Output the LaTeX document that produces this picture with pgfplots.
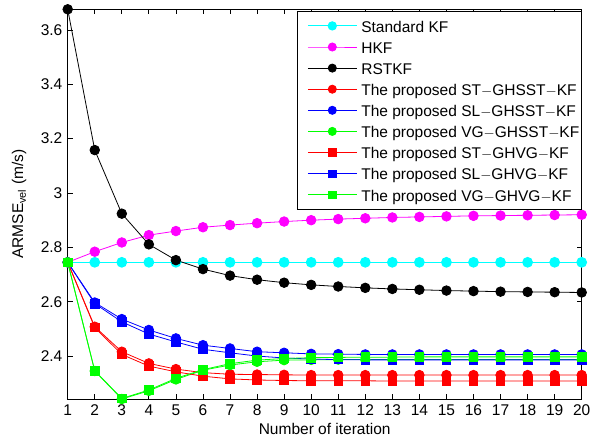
\documentclass[border=0pt]{standalone}
\usepackage{fontspec}
\setmainfont{Liberation Sans}
\usepackage{pgfplots}
\pgfplotsset{compat=1.18}
\usetikzlibrary{calc}
\definecolor{mcyan}{rgb}{0,1,1}
\definecolor{mmag}{rgb}{1,0,1}
\definecolor{mred}{rgb}{1,0,0}
\definecolor{mblue}{rgb}{0,0,1}
\definecolor{mgreen}{rgb}{0,1,0}

\pgfplotstableread{
x cyan mag blk redc bluec greenc reds blues greens
1  2.745 2.745 3.676 2.745 2.745 2.745 2.745 2.745 2.745
2  2.745 2.784 3.158 2.508 2.597 2.345 2.505 2.593 2.346
3  2.745 2.818 2.924 2.416 2.536 2.242 2.406 2.526 2.244
4  2.745 2.845 2.811 2.373 2.496 2.272 2.363 2.481 2.275
5  2.745 2.860 2.753 2.352 2.465 2.314 2.342 2.452 2.318
6  2.745 2.874 2.720 2.339 2.440 2.348 2.326 2.425 2.350
7  2.745 2.882 2.696 2.333 2.428 2.367 2.316 2.412 2.372
8  2.745 2.889 2.681 2.332 2.416 2.379 2.312 2.400 2.385
9  2.745 2.895 2.670 2.331 2.412 2.385 2.310 2.393 2.391
10 2.745 2.900 2.662 2.330 2.408 2.386 2.309 2.389 2.394
11 2.745 2.904 2.656 2.330 2.407 2.387 2.309 2.387 2.395
12 2.745 2.907 2.651 2.330 2.406 2.387 2.309 2.386 2.396
13 2.745 2.910 2.647 2.330 2.406 2.387 2.308 2.386 2.396
14 2.745 2.912 2.644 2.330 2.406 2.387 2.308 2.386 2.397
15 2.745 2.914 2.641 2.330 2.406 2.387 2.308 2.386 2.397
16 2.745 2.916 2.639 2.330 2.406 2.387 2.308 2.386 2.397
17 2.745 2.917 2.637 2.330 2.406 2.387 2.308 2.386 2.397
18 2.745 2.918 2.636 2.330 2.406 2.387 2.308 2.386 2.397
19 2.745 2.919 2.635 2.330 2.406 2.387 2.308 2.386 2.397
20 2.745 2.920 2.634 2.330 2.406 2.387 2.308 2.386 2.397
}\data

\begin{document}
\fontsize{15.5}{18}\selectfont
\begin{tikzpicture}
\begin{axis}[
  scale only axis, width=514pt, height=389.7pt,
  xmin=1, xmax=20, ymin=2.242, ymax=3.676,
  xtick={1,...,20}, ytick={2.4,2.6,2.8,3,3.2,3.4,3.6},
  /pgf/number format/assume math mode=true,
  tick label style={font=\fontsize{15.5}{18}\selectfont},
  label style={font=\fontsize{15.5}{18}\selectfont},
  tick align=inside, major tick length=5pt,
  every tick/.style={black, line width=0.8pt},
  axis line style={line width=0.8pt},
  clip=false,
  xlabel={Number of iteration},
  ylabel={ARMSE\textsubscript{vel} (m/s)},
  every axis y label/.style={at={(axis description cs:-0.0946,0.5)}, rotate=90, anchor=center},
  every axis x label/.style={at={(axis description cs:0.5,-0.0765)}, anchor=center},
  legend cell align=left,
  legend style={at={(1,0.996)}, anchor=north east, draw=black, line width=0.8pt,
    font=\fontsize{15.5}{18}\selectfont,
    nodes={inner sep=0pt, text height=17.5pt, text depth=4.8pt},
    inner xsep=2pt, inner ysep=3.5pt, row sep=-1.2pt,
    /tikz/every odd column/.append style={column sep=4pt}},
  legend image code/.code={
    \path (0pt,0pt);
    \draw[mark repeat=2,mark phase=2] plot coordinates {(8pt,0pt)(32.5pt,0pt)(57pt,0pt)};},
  legend image post style={every mark/.append style={scale=0.85}},
  every axis plot/.append style={line width=0.8pt},
  circ/.style={mark=*, mark size=4.8pt, mark options={solid}},
  sq/.style={mark=square*, mark size=4.3pt, mark options={solid}},
]
\addplot[mcyan, circ, line width=1.1pt] table[x=x,y=cyan] {\data};
\addlegendentry{Standard KF}
\addplot[mmag, circ] table[x=x,y=mag] {\data};
\addlegendentry{HKF}
\addplot[black, circ] table[x=x,y=blk] {\data};
\addlegendentry{RSTKF}
\addplot[mred, circ] table[x=x,y=redc] {\data};
\addlegendentry{The proposed ST$-$GHSST$-$KF}
\addplot[mblue, circ] table[x=x,y=bluec] {\data};
\addlegendentry{The proposed SL$-$GHSST$-$KF}
\addplot[mgreen, circ] table[x=x,y=greenc] {\data};
\addlegendentry{The proposed VG$-$GHSST$-$KF}
\addplot[mred, sq] table[x=x,y=reds] {\data};
\addlegendentry{The proposed ST$-$GHVG$-$KF}
\addplot[mblue, sq] table[x=x,y=blues] {\data};
\addlegendentry{The proposed SL$-$GHVG$-$KF}
\addplot[mgreen, sq] table[x=x,y=greens] {\data};
\addlegendentry{The proposed VG$-$GHVG$-$KF}
\end{axis}
\pgfresetboundingbox
\path[use as bounding box] ($(current axis.south west)+(-67.7pt,-43pt)$) rectangle ($(current axis.north east)+(20.3pt,9.3pt)$);
\end{tikzpicture}
\end{document}
